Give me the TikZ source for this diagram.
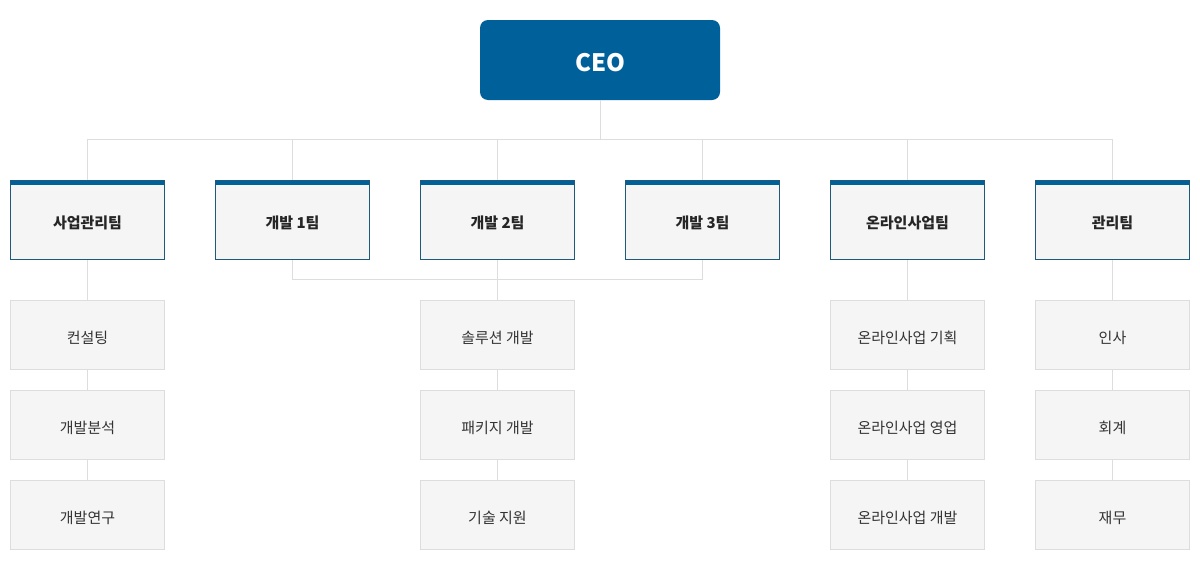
\documentclass[tikz,border=0pt]{standalone}
\usepackage{fontspec}
\setmainfont{Noto Sans CJK KR}
\usepackage{xcolor}
\usetikzlibrary{positioning}

\definecolor{ceoblue}{HTML}{00609A}
\definecolor{teamedge}{HTML}{1D5A7C}
\definecolor{boxgray}{HTML}{F5F5F5}
\definecolor{subedge}{HTML}{DDDDDD}
\definecolor{linkgray}{HTML}{DDDDDD}

\tikzset{
    ceobox/.style={rectangle, rounded corners=8pt, fill=ceoblue, text=white,
        minimum width=240pt, minimum height=80pt, inner sep=0pt,
        text height=23pt, text depth=0pt,
        font=\fontsize{24}{28}\selectfont\bfseries},
    teambox/.style={rectangle, draw=teamedge, line width=1pt, fill=boxgray,
        minimum width=154pt, minimum height=79pt, inner sep=0pt, text=black!85,
        text height=17pt, text depth=1pt,
        font=\fontsize{15}{18}\selectfont\bfseries,
        path picture={\fill[ceoblue] (path picture bounding box.north west)
            rectangle ([yshift=-4pt]path picture bounding box.north east);}},
    subbox/.style={rectangle, draw=subedge, line width=1pt, fill=boxgray,
        minimum width=154pt, minimum height=69pt, inner sep=0pt, text=black!80,
        text height=17pt, text depth=1pt,
        font=\fontsize{15}{18}\selectfont},
    link/.style={draw=linkgray, line width=1pt}
}

\begin{document}
\begin{tikzpicture}[x=1pt, y=-1pt]
        \useasboundingbox[fill=white] (0,0) rectangle (1200,560);

        \node[ceobox] (ceo) at (600,60) {CEO};

        % teams
        \node[teambox] (mgmt) at (87.5,220) {사업관리팀};
        \node[teambox] (dev1) at (292.5,220) {개발 1팀};
        \node[teambox] (dev2) at (497.5,220) {개발 2팀};
        \node[teambox] (dev3) at (702.5,220) {개발 3팀};
        \node[teambox] (online) at (907.5,220) {온라인사업팀};
        \node[teambox] (admin) at (1112.5,220) {관리팀};

        % sub units
        \node[subbox] (consult) at (87.5,335) {컨설팅};
        \node[subbox] (analysis) at (87.5,425) {개발분석};
        \node[subbox] (research) at (87.5,515) {개발연구};

        \node[subbox] (solution) at (497.5,335) {솔루션 개발};
        \node[subbox] (package) at (497.5,425) {패키지 개발};
        \node[subbox] (support) at (497.5,515) {기술 지원};

        \node[subbox] (plan) at (907.5,335) {온라인사업 기획};
        \node[subbox] (sales) at (907.5,425) {온라인사업 영업};
        \node[subbox] (odev) at (907.5,515) {온라인사업 개발};

        \node[subbox] (hr) at (1112.5,335) {인사};
        \node[subbox] (acct) at (1112.5,425) {회계};
        \node[subbox] (fin) at (1112.5,515) {재무};

        \coordinate (bus) at (600,139.5);
        \coordinate (devbus) at (600,279.5);

        % CEO to teams
        \draw[link] (ceo.south) -- (bus);
        \draw[link] (mgmt.north) -- (mgmt.north |- bus) -- (admin.north |- bus) -- (admin.north);
        \draw[link] (dev1.north) -- (dev1.north |- bus);
        \draw[link] (dev2.north) -- (dev2.north |- bus);
        \draw[link] (dev3.north) -- (dev3.north |- bus);
        \draw[link] (online.north) -- (online.north |- bus);

        % dev teams joined
        \draw[link] (dev1.south) -- (dev1.south |- devbus) -- (dev3.south |- devbus) -- (dev3.south);
        \draw[link] (dev2.south) -- (solution.north);

        % columns
        \draw[link] (mgmt.south) -- (consult.north);
        \draw[link] (consult.south) -- (analysis.north);
        \draw[link] (analysis.south) -- (research.north);
        \draw[link] (solution.south) -- (package.north);
        \draw[link] (package.south) -- (support.north);
        \draw[link] (online.south) -- (plan.north);
        \draw[link] (plan.south) -- (sales.north);
        \draw[link] (sales.south) -- (odev.north);
        \draw[link] (admin.south) -- (hr.north);
        \draw[link] (hr.south) -- (acct.north);
        \draw[link] (acct.south) -- (fin.north);
    \end{tikzpicture}
\end{document}
